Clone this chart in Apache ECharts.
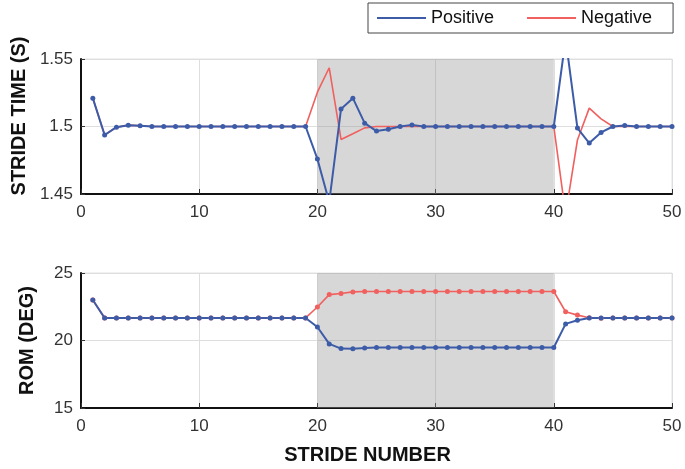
<!DOCTYPE html>
<html>
<head>
<meta charset="utf-8">
<script src="https://cdn.jsdelivr.net/npm/echarts@6/dist/echarts.min.js"></script>
<style>
  html, body { margin: 0; padding: 0; background: #fff; }
</style>
</head>
<body>
<div id="myChart" style="width: 685px; height: 469px;"></div>
<script>
// stride numbers 1..50
var strides = [1, 2, 3, 4, 5, 6, 7, 8, 9, 10, 11, 12, 13, 14, 15, 16, 17, 18, 19, 20,
  21, 22, 23, 24, 25, 26, 27, 28, 29, 30, 31, 32, 33, 34, 35, 36, 37, 38, 39, 40,
  41, 42, 43, 44, 45, 46, 47, 48, 49, 50];

// stride time (s)
var timePositive = [1.521, 1.4937, 1.4995, 1.501, 1.5005, 1.5, 1.5, 1.5, 1.5, 1.5,
  1.5, 1.5, 1.5, 1.5, 1.5, 1.5, 1.5, 1.5, 1.5, 1.476,
  1.444, 1.513, 1.521, 1.5025, 1.4966, 1.498, 1.5, 1.5012, 1.5, 1.5,
  1.5, 1.5, 1.5, 1.5, 1.5, 1.5, 1.5, 1.5, 1.5, 1.5,
  1.565, 1.4988, 1.4877, 1.4956, 1.5, 1.5008, 1.5, 1.5, 1.5, 1.5];
var timeNegative = [1.521, 1.4937, 1.4995, 1.501, 1.5005, 1.5, 1.5, 1.5, 1.5, 1.5,
  1.5, 1.5, 1.5, 1.5, 1.5, 1.5, 1.5, 1.5, 1.5, 1.5254,
  1.5435, 1.4904, 1.4946, 1.499, 1.5, 1.5, 1.5, 1.5, 1.5, 1.5,
  1.5, 1.5, 1.5, 1.5, 1.5, 1.5, 1.5, 1.5, 1.5, 1.5,
  1.435, 1.490, 1.5136, 1.5057, 1.5, 1.5, 1.5, 1.5, 1.5, 1.5];

// range of motion (deg)
var romPositive = [23.0, 21.67, 21.67, 21.67, 21.67, 21.67, 21.67, 21.67, 21.67, 21.67,
  21.67, 21.67, 21.67, 21.67, 21.67, 21.67, 21.67, 21.67, 21.67, 21.0,
  19.75, 19.4, 19.38, 19.45, 19.48, 19.48, 19.48, 19.48, 19.48, 19.48,
  19.48, 19.48, 19.48, 19.48, 19.48, 19.48, 19.48, 19.48, 19.48, 19.48,
  21.23, 21.5, 21.67, 21.67, 21.67, 21.67, 21.67, 21.67, 21.67, 21.67];
var romNegative = [23.0, 21.67, 21.67, 21.67, 21.67, 21.67, 21.67, 21.67, 21.67, 21.67,
  21.67, 21.67, 21.67, 21.67, 21.67, 21.67, 21.67, 21.67, 21.67, 22.48,
  23.4, 23.48, 23.6, 23.63, 23.63, 23.63, 23.63, 23.63, 23.63, 23.63,
  23.63, 23.63, 23.63, 23.63, 23.63, 23.63, 23.63, 23.63, 23.63, 23.63,
  22.13, 21.88, 21.68, 21.65, 21.67, 21.67, 21.67, 21.67, 21.67, 21.67];

// perturbation window
var shadeRange = [20, 40];

var BLUE = '#3d5ca8';
var RED = '#f0605e';
var FONT = 'Liberation Sans';

function pairs(ys) {
  var out = [];
  for (var i = 0; i < strides.length; i++) out.push([strides[i], ys[i]]);
  return out;
}

function xAxisFor(idx, withName) {
  return {
    type: 'value', gridIndex: idx, min: 0, max: 50, interval: 10,
    name: withName ? 'STRIDE NUMBER' : '',
    nameLocation: 'middle', nameGap: 37,
    nameTextStyle: { fontFamily: FONT, fontSize: 20, fontWeight: 'bold', color: '#111', padding: [0, 18, 0, 0] },
    axisLine: { show: true, onZero: false, lineStyle: { color: '#111', width: 2 } },
    axisTick: { show: true, inside: true, length: 5, lineStyle: { color: '#333' } },
    axisLabel: { fontFamily: FONT, fontSize: 17, color: '#333', margin: 10 },
    splitLine: { show: true, lineStyle: { color: '#dedede', width: 1 } }
  };
}

function yAxisFor(idx, name, min, max, interval, namePad) {
  return {
    type: 'value', gridIndex: idx, min: min, max: max, interval: interval,
    name: name, nameLocation: 'middle', nameGap: 44,
    nameTextStyle: { fontFamily: FONT, fontSize: 20, fontWeight: 'bold', color: '#111', padding: namePad },
    axisLine: { show: true, onZero: false, lineStyle: { color: '#111', width: 2 } },
    axisTick: { show: true, inside: true, length: 4, lineStyle: { color: '#333' } },
    axisLabel: { fontFamily: FONT, fontSize: 17, color: '#333', margin: 8 },
    splitLine: { show: true, lineStyle: { color: '#dedede', width: 1 } }
  };
}

var shade = {
  silent: true,
  itemStyle: { color: 'rgba(150,150,150,0.38)' },
  data: [[{ xAxis: shadeRange[0] }, { xAxis: shadeRange[1] }]]
};

var dom = document.getElementById('myChart');
var myChart = echarts.init(dom, null, { renderer: 'canvas' });

var option = {
  animation: false,
  backgroundColor: '#fff',
  legend: {
    data: ['Positive', 'Negative'],
    left: 368, top: 3,
    padding: [6, 21, 6, 9],
    itemGap: 33,
    itemWidth: 49, itemHeight: 2,
    icon: 'rect',
    borderColor: '#444', borderWidth: 1,
    textStyle: { fontFamily: FONT, fontSize: 18, color: '#111' }
  },
  grid: [
    { left: 81, right: 13, top: 59, height: 135, show: true, borderColor: '#e2e2e2', borderWidth: 1, backgroundColor: '#fff' },
    { left: 81, right: 13, top: 273, height: 135, show: true, borderColor: '#e2e2e2', borderWidth: 1, backgroundColor: '#fff' }
  ],
  xAxis: [xAxisFor(0, false), xAxisFor(1, true)],
  yAxis: [
    yAxisFor(0, 'STRIDE TIME (S)', 1.45, 1.55, 0.05, [0, 0, 0, 21]),
    yAxisFor(1, 'ROM (DEG)', 15, 25, 5, [0, 0, 0, 0])
  ],
  series: [
    {
      name: 'Negative', type: 'line', xAxisIndex: 0, yAxisIndex: 0,
      data: pairs(timeNegative), showSymbol: false, clip: true,
      lineStyle: { color: RED, width: 1.6 }, itemStyle: { color: RED },
      markArea: shade
    },
    {
      name: 'Positive', type: 'line', xAxisIndex: 0, yAxisIndex: 0,
      data: pairs(timePositive), symbol: 'circle', symbolSize: 5, clip: true,
      lineStyle: { color: BLUE, width: 2 }, itemStyle: { color: BLUE }
    },
    {
      name: 'Negative', type: 'line', xAxisIndex: 1, yAxisIndex: 1,
      data: pairs(romNegative), symbol: 'circle', symbolSize: 5, clip: true,
      lineStyle: { color: RED, width: 1.6 }, itemStyle: { color: RED },
      markArea: shade
    },
    {
      name: 'Positive', type: 'line', xAxisIndex: 1, yAxisIndex: 1,
      data: pairs(romPositive), symbol: 'circle', symbolSize: 5, clip: true,
      lineStyle: { color: BLUE, width: 2 }, itemStyle: { color: BLUE }
    }
  ]
};

myChart.setOption(option);
window.addEventListener('resize', myChart.resize);
</script>
</body>
</html>
